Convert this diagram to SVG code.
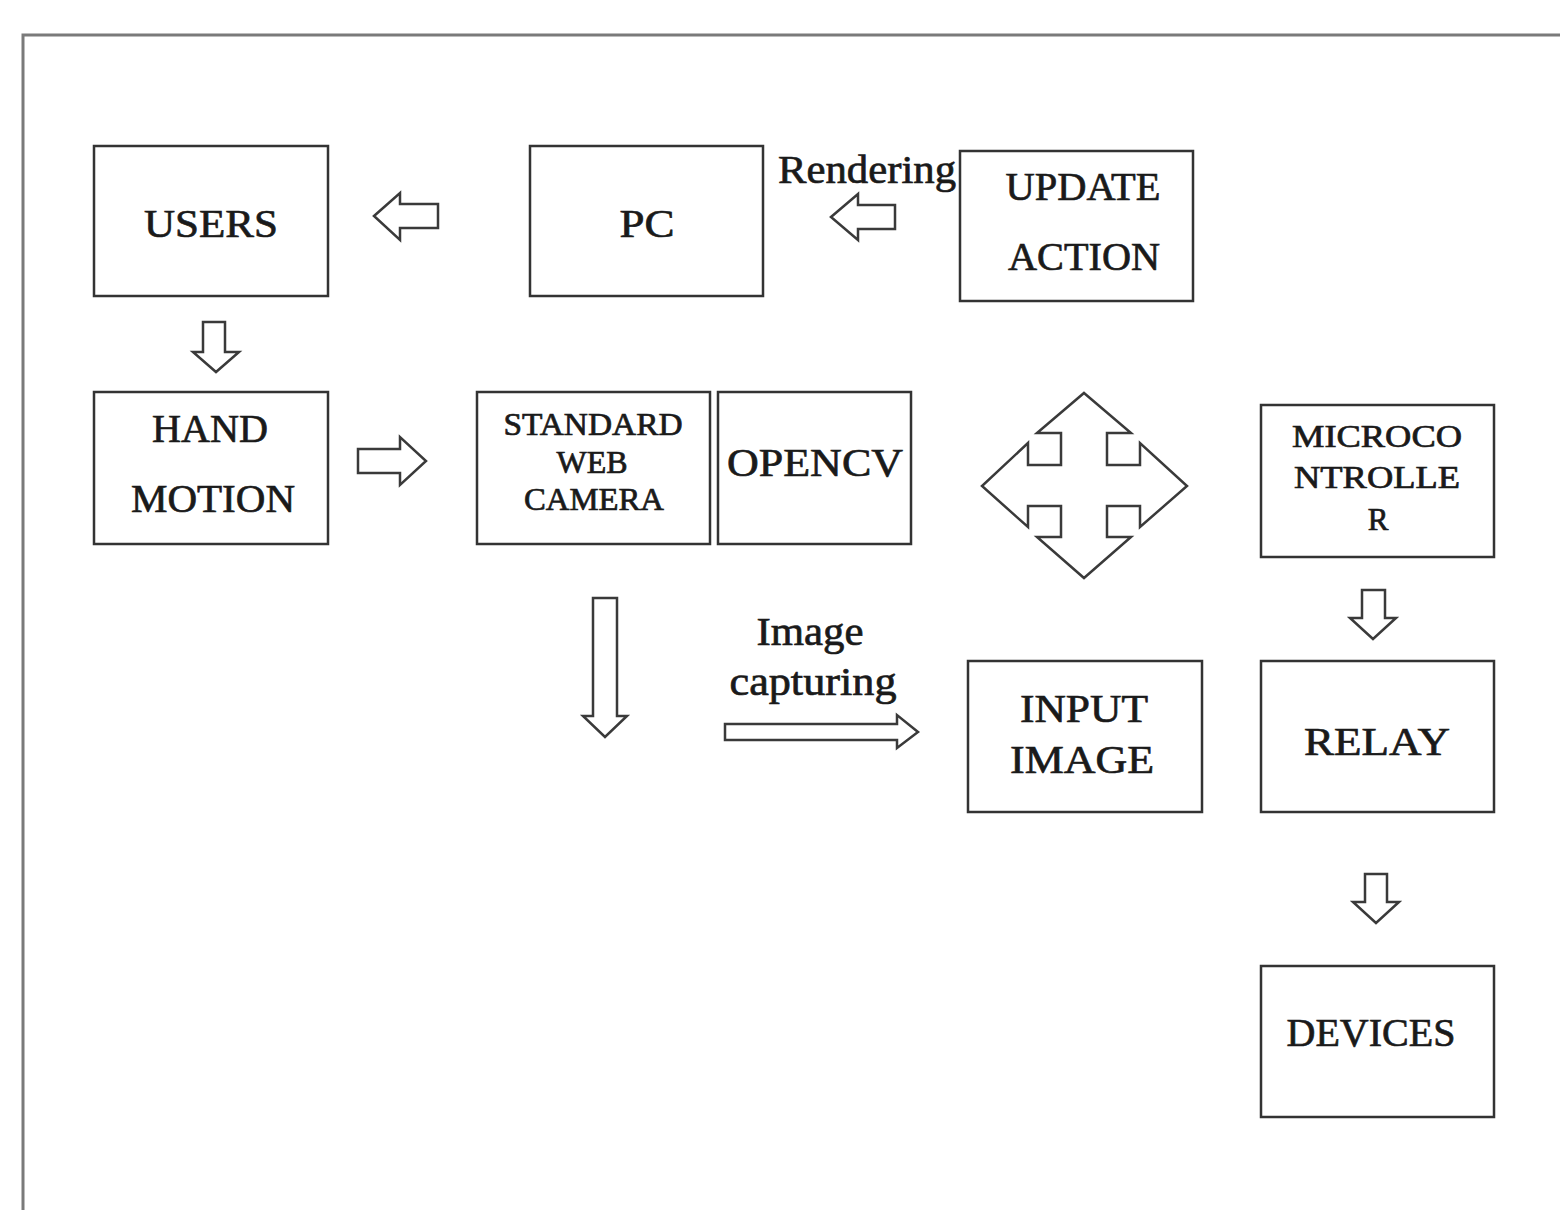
<svg xmlns="http://www.w3.org/2000/svg" width="1560" height="1210" viewBox="0 0 1560 1210">
  <style>
    .box { fill: #ffffff; stroke: #333333; stroke-width: 2.5; }
    .arrow { fill: #ffffff; stroke: #3a3a3a; stroke-width: 2.5; stroke-linejoin: miter; }
    .frame { fill: none; stroke: #7a7a7a; stroke-width: 3; }
    .lbl { font-family: "Liberation Serif", "Times New Roman", serif; fill: #1a1a1a; stroke: #1a1a1a; stroke-width: 0.7; text-anchor: middle; }
    .big { font-size: 40px; }
    .small { font-size: 31px; }
  </style>
  <rect width="1560" height="1210" fill="#ffffff"/>

  <!-- page frame -->
  <path class="frame" d="M23,1210 V35 H1560"/>

  <!-- connectors -->
  <g id="connectors">
    <!-- PC to USERS -->
    <path class="arrow" d="M374,216 L400,193 L400,204 L438,204 L438,228 L400,228 L400,240 Z"/>
    <!-- UPDATE ACTION to PC -->
    <path class="arrow" d="M831,217 L858,194 L858,205 L895,205 L895,229 L858,229 L858,240 Z"/>
    <!-- USERS to HAND MOTION -->
    <path class="arrow" d="M203,322 L225,322 L225,352 L239,352 L216,372 L193,352 L203,352 Z"/>
    <!-- HAND MOTION to camera -->
    <path class="arrow" d="M358,449 L400,449 L400,437 L426,461 L400,485 L400,473 L358,473 Z"/>
    <!-- long down arrow under camera -->
    <path class="arrow" d="M593,598 L617,598 L617,716 L627,716 L605,737 L583,716 L593,716 Z"/>
    <!-- image capturing to INPUT IMAGE -->
    <path class="arrow" d="M725,724 L897,724 L897,715 L918,732 L897,748 L897,740 L725,740 Z"/>
    <!-- MICROCONTROLLER to RELAY -->
    <path class="arrow" d="M1362,590 L1385,590 L1385,618 L1396,618 L1373,639 L1350,618 L1362,618 Z"/>
    <!-- RELAY to DEVICES -->
    <path class="arrow" d="M1365,874 L1387,874 L1387,902 L1399,902 L1376,923 L1353,902 L1365,902 Z"/>
    <!-- four-way arrow -->
    <path class="arrow" d="M1084,393 L1131,433 L1107,433 L1107,465 L1140,465 L1140,443 L1187,486 L1140,527 L1140,506 L1107,506 L1107,537 L1131,537 L1084,578 L1037,537 L1061,537 L1061,506 L1028,506 L1028,527 L982,486 L1028,443 L1028,465 L1061,465 L1061,433 L1037,433 Z"/>
    <text class="lbl big" x="867" y="183" textLength="178" lengthAdjust="spacingAndGlyphs">Rendering</text>
    <text class="lbl big" x="810" y="645" textLength="107" lengthAdjust="spacingAndGlyphs">Image</text>
    <text class="lbl big" x="813" y="695" textLength="167" lengthAdjust="spacingAndGlyphs">capturing</text>
  </g>

  <g id="users">
    <rect class="box" x="94" y="146" width="234" height="150"/>
    <text class="lbl big" x="211" y="237" textLength="134" lengthAdjust="spacingAndGlyphs">USERS</text>
  </g>

  <g id="pc">
    <rect class="box" x="530" y="146" width="233" height="150"/>
    <text class="lbl big" x="647" y="237" textLength="55" lengthAdjust="spacingAndGlyphs">PC</text>
  </g>

  <g id="update-action">
    <rect class="box" x="960" y="151" width="233" height="150"/>
    <text class="lbl big" x="1083" y="200" textLength="155" lengthAdjust="spacingAndGlyphs">UPDATE</text>
    <text class="lbl big" x="1084" y="270" textLength="152" lengthAdjust="spacingAndGlyphs">ACTION</text>
  </g>

  <g id="hand-motion">
    <rect class="box" x="94" y="392" width="234" height="152"/>
    <text class="lbl big" x="210" y="442" textLength="116" lengthAdjust="spacingAndGlyphs">HAND</text>
    <text class="lbl big" x="213" y="512" textLength="164" lengthAdjust="spacingAndGlyphs">MOTION</text>
  </g>

  <g id="web-camera">
    <rect class="box" x="477" y="392" width="233" height="152"/>
    <text class="lbl small" x="593" y="435" textLength="179" lengthAdjust="spacingAndGlyphs">STANDARD</text>
    <text class="lbl small" x="592" y="473" textLength="71" lengthAdjust="spacingAndGlyphs">WEB</text>
    <text class="lbl small" x="594" y="510" textLength="140" lengthAdjust="spacingAndGlyphs">CAMERA</text>
  </g>

  <g id="opencv">
    <rect class="box" x="718" y="392" width="193" height="152"/>
    <text class="lbl big" x="815" y="476" textLength="176" lengthAdjust="spacingAndGlyphs">OPENCV</text>
  </g>

  <g id="microcontroller">
    <rect class="box" x="1261" y="405" width="233" height="152"/>
    <text class="lbl small" x="1377" y="447" textLength="170" lengthAdjust="spacingAndGlyphs">MICROCO</text>
    <text class="lbl small" x="1377" y="488" textLength="166" lengthAdjust="spacingAndGlyphs">NTROLLE</text>
    <text class="lbl small" x="1378" y="530">R</text>
  </g>

  <g id="input-image">
    <rect class="box" x="968" y="661" width="234" height="151"/>
    <text class="lbl big" x="1084" y="722" textLength="128" lengthAdjust="spacingAndGlyphs">INPUT</text>
    <text class="lbl big" x="1082" y="773" textLength="144" lengthAdjust="spacingAndGlyphs">IMAGE</text>
  </g>

  <g id="relay">
    <rect class="box" x="1261" y="661" width="233" height="151"/>
    <text class="lbl big" x="1377" y="755" textLength="146" lengthAdjust="spacingAndGlyphs">RELAY</text>
  </g>

  <g id="devices">
    <rect class="box" x="1261" y="966" width="233" height="151"/>
    <text class="lbl big" x="1371" y="1046" textLength="169" lengthAdjust="spacingAndGlyphs">DEVICES</text>
  </g>
</svg>
